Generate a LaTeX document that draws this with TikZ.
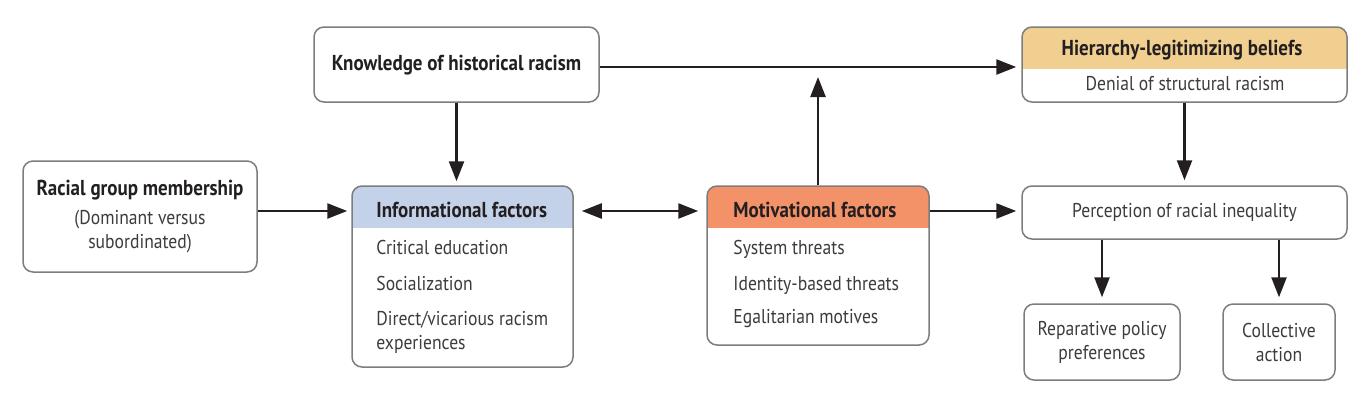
\documentclass[tikz,border=0pt]{standalone}
\usepackage{fontspec}
\setmainfont{PT Sans}[FakeStretch=0.88]
\usetikzlibrary{arrows.meta}
\definecolor{boxgray}{RGB}{125,125,125}
\definecolor{bodygray}{RGB}{60,60,60}
\definecolor{headblack}{RGB}{35,31,32}
\definecolor{infoblue}{RGB}{196,210,233}
\definecolor{motorange}{RGB}{243,146,104}
\definecolor{hierbeige}{RGB}{241,207,144}
\newcommand{\hd}[1]{{\fontsize{10.8}{12}\selectfont\bfseries\color{headblack}#1}}

\begin{document}
\begin{tikzpicture}[
  x=0.5pt, y=-0.5pt,
  every node/.style={font=\fontsize{10}{12}\selectfont, text=bodygray},
  box/.style={draw=boxgray, fill=white, line width=0.75pt,
    rounded corners=5pt, inner sep=0pt},
  hdr/.style={path picture={\fill[#1, sharp corners]
    (path picture bounding box.north west) rectangle
    ([yshift=-21pt]path picture bounding box.north east);}},
  item/.style={anchor=base west, inner sep=0pt},
  arr/.style={-{Triangle[length=10pt,width=7.5pt]}, line width=1.2pt,
    draw=headblack},
]
\useasboundingbox (0,0) rectangle (1369,402);

% boxes
\node[box, minimum width=117pt, minimum height=55.5pt, align=center]
  at (140,216.5) (racial) {\hd{Racial group membership}\\[2.5pt](Dominant versus\\subordinated)};
\node[box, minimum width=142.5pt, minimum height=37.5pt, text depth=2pt]
  at (456.5,64.5) (know) {\hd{Knowledge of historical racism}};
\node[box, hdr=infoblue, minimum width=110.5pt, minimum height=90.5pt]
  at (462.5,276.5) (info) {};
\node[box, hdr=motorange, minimum width=111pt, minimum height=79.5pt]
  at (818,265.5) (mot) {};
\node[box, hdr=hierbeige, minimum width=162.5pt, minimum height=37.5pt]
  at (1184.5,64.5) (hier) {};
\node[box, minimum width=162.5pt, minimum height=26.5pt]
  at (1184.5,212.5) (perc) {Perception of racial inequality};
\node[box, minimum width=78pt, minimum height=38pt, align=center]
  at (1102,342) (rep) {Reparative policy\\preferences};
\node[box, minimum width=56pt, minimum height=38pt, align=center]
  at (1279,342) (col) {Collective\\action};

% texts inside the header boxes
\node[item] at (376,217) (infohd) {\hd{Informational factors}};
\node[item] at (376,254) (infoa)  {Critical education};
\node[item] at (376,290) (infob)  {Socialization};
\node[item] at (376,325) (infoc)  {Direct/vicarious racism};
\node[item] at (376,349) (infod)  {experiences};

\node[item] at (733,217) (mothd) {\hd{Motivational factors}};
\node[item] at (733,254) (mota)  {System threats};
\node[item] at (733,290) (motb)  {Identity-based threats};
\node[item] at (733,323) (motc)  {Egalitarian motives};

\node[anchor=base, inner sep=0pt] at (1182,55) (hierhd) {\hd{Hierarchy-legitimizing beliefs}};
\node[anchor=base, inner sep=0pt] at (1185,90) (hiera)  {Denial of structural racism};

\coordinate (midrow) at (0,211);
\coordinate (toprow) at (0,67);
\coordinate (modpt) at (816,77);

% connectors
\draw[arr, shorten >=2pt] (racial.east |- midrow) -- (info.west |- midrow);
\draw[arr, {Triangle[length=10pt,width=7.5pt]}-{Triangle[length=10pt,width=7.5pt]},
  shorten <=4pt, shorten >=4pt] (info.east |- midrow) -- (mot.west |- midrow);
\draw[arr, shorten >=2.5pt] (mot.east |- midrow) -- (perc.west |- midrow);
\draw[arr, shorten >=2pt] (know.south) -- (know.south |- info.north);
\draw[arr, shorten >=2.5pt] (know.east |- toprow) -- (hier.west |- toprow);
\draw[arr] (mot.north) -- (mot.north |- modpt);
\draw[arr, shorten >=2.5pt] (hier.south) -- (perc.north);
\draw[arr, shorten >=3pt] (rep.north |- perc.south) -- (rep.north);
\draw[arr, shorten >=3pt] (col.north |- perc.south) -- (col.north);
\end{tikzpicture}
\end{document}
